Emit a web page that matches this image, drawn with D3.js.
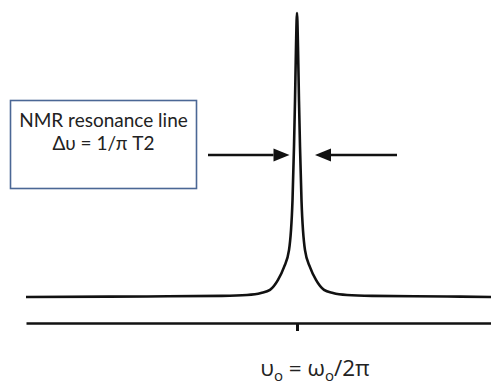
<!DOCTYPE html>
<html>
<head>
<meta charset="utf-8">
<script src="https://cdn.jsdelivr.net/npm/d3@7"></script>
<style>
  html, body { margin: 0; padding: 0; background: #fff; }
  svg { display: block; }
</style>
</head>
<body>
<svg id="chart" width="491" height="386"></svg>
<script>
// Frequency offset from resonance (arbitrary units) and normalized intensity
const freqOffset = [-27.1, -15, -7.5, -5, -3.6, -2.7, -1.9, -1.3, -0.8, -0.45, -0.3, -0.2, -0.1, 0,
                    0.1, 0.2, 0.3, 0.45, 0.8, 1.3, 1.9, 2.7, 3.6, 5, 7.5, 15, 19.4];
const intensity  = [0, 0.002, 0.004, 0.007, 0.014, 0.025, 0.06, 0.105, 0.165, 0.34, 0.53, 0.69, 0.88, 1,
                    0.88, 0.69, 0.53, 0.34, 0.165, 0.105, 0.06, 0.025, 0.014, 0.007, 0.004, 0.002, 0];
const tickValues = [0];
const boxLines = ["NMR resonance line", "Δυ = 1/π T2"];
const halfWidthMarks = [-0.75, 1.8]; // arrow tips either side of the line
const arrowTails = [-8.9, 10.0];
const arrowLevel = [0.5];

const svg = d3.select("#chart");

const x = d3.scaleLinear().domain([-27.1, 19.4]).range([26, 491]);
const y = d3.scaleLinear().domain([0, 1]).range([297, 13]);

const pts = freqOffset.map((f, i) => [f, intensity[i]]);

// spectrum line
svg.append("path")
  .datum(pts)
  .attr("fill", "none")
  .attr("stroke", "#111")
  .attr("stroke-width", 2.6)
  .attr("stroke-linejoin", "round")
  .attr("d", d3.line().x(d => x(d[0])).y(d => y(d[1])).curve(d3.curveMonotoneX));

// frequency axis
const axisY = 323;
const axis = d3.axisBottom(x).tickValues(tickValues).tickFormat("").tickSize(8).tickSizeOuter(0);
const gAxis = svg.append("g").attr("transform", `translate(0,${axisY})`).call(axis);
gAxis.select(".domain").attr("stroke", "#111").attr("stroke-width", 2.6);
gAxis.selectAll(".tick line").attr("stroke", "#111").attr("stroke-width", 3);

// axis label
const lab = svg.append("text")
  .attr("x", x(0) + 18).attr("y", 376)
  .attr("text-anchor", "middle")
  .attr("font-family", "'Open Sans', sans-serif")
  .attr("font-size", 22.5)
  .attr("fill", "#222");
lab.append("tspan").text("υ");
lab.append("tspan").attr("font-size", 15).attr("dy", 5).text("o");
lab.append("tspan").attr("dy", -5).text(" = ω");
lab.append("tspan").attr("font-size", 15).attr("dy", 5).text("o");
lab.append("tspan").attr("dy", -5).text("/2π");

// arrows
const ay = y(arrowLevel[0]);
[0, 1].forEach(i => {
  const tip = x(halfWidthMarks[i]);
  const tail = x(arrowTails[i]);
  const dir = Math.sign(tip - tail);
  const headLen = 16, headHalf = 6.5;
  svg.append("line")
    .attr("x1", tail).attr("x2", tip - dir * headLen).attr("y1", ay).attr("y2", ay)
    .attr("stroke", "#111").attr("stroke-width", 2.6);
  svg.append("path")
    .attr("d", `M${tip},${ay} L${tip - dir * headLen},${ay - headHalf} L${tip - dir * headLen},${ay + headHalf} Z`)
    .attr("fill", "#111");
});

// annotation box
svg.append("rect")
  .attr("x", 10.5).attr("y", 100.5).attr("width", 186).attr("height", 88)
  .attr("fill", "#fff")
  .attr("stroke", "#4b6795").attr("stroke-width", 1.6);

svg.selectAll("text.box")
  .data(boxLines)
  .join("text")
  .attr("class", "box")
  .attr("x", 103.5)
  .attr("y", (d, i) => 127 + i * 23)
  .attr("text-anchor", "middle")
  .attr("font-family", "Lato, 'Open Sans', sans-serif")
  .attr("font-size", 19)
  .attr("fill", "#222")
  .text(d => d);
</script>
</body>
</html>
